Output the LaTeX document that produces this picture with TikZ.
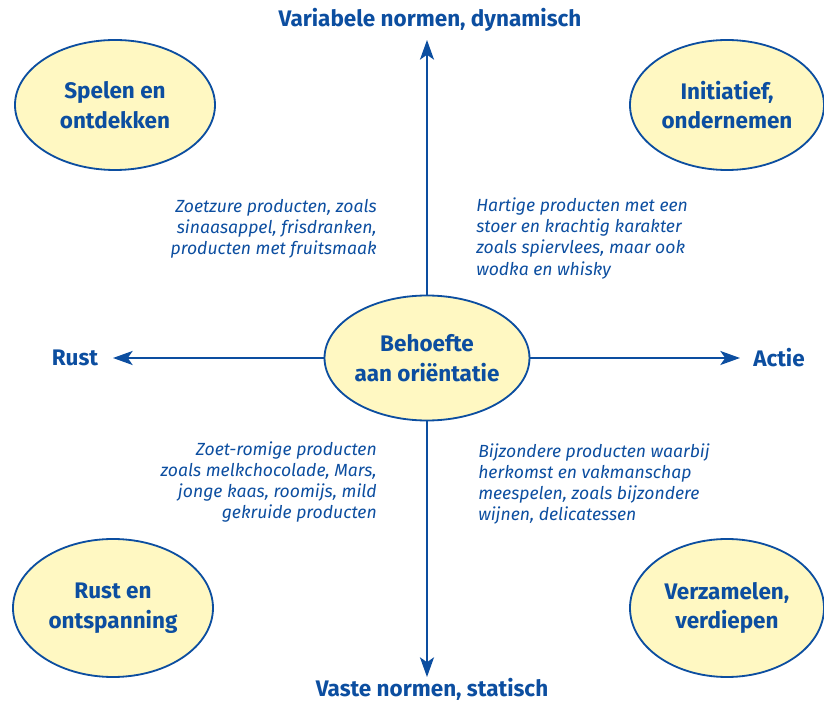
\documentclass[tikz,border=0pt]{standalone}
\usepackage{fontspec}
\setmainfont{Fira Sans}
\usetikzlibrary{arrows.meta,shapes.geometric}
\definecolor{kblue}{RGB}{12,78,160}
\definecolor{kfill}{RGB}{255,248,194}
\begin{document}
\begin{tikzpicture}[
       bol/.style = {ellipse, draw = kblue, line width = 1.3pt, fill = kfill, text = kblue,
                     font = \fontsize{16}{21}\selectfont\bfseries, align = center, inner sep = 0pt},
       axis/.style = {draw = kblue, line width = 1.4pt, -{Stealth[length = 14pt, width = 10pt, inset = 3.5pt]}},
       aslabel/.style = {text = kblue, font = \fontsize{16}{19}\selectfont\bfseries},
       uitleg/.style = {text = kblue, font = \fontsize{12.5}{15}\selectfont\itshape, inner sep = 0pt}]
       \useasboundingbox (-10.675,-8.575) rectangle (9.925,8.95);
       \node (mid) [bol, minimum width = 5.025cm, minimum height = 3.125cm] at (0,0) {Behoefte\\aan oriëntatie};
       \node (spelen) [bol, minimum width = 5cm, minimum height = 3.25cm] at (-7.8,6.325) {Spelen en\\ontdekken};
       \node (initiatief) [bol, minimum width = 4.85cm, minimum height = 3.25cm] at (7.5,6.325) {Initiatief,\\ondernemen};
       \node (rustbol) [bol, minimum width = 5cm, minimum height = 3.45cm] at (-7.85,-6.25) {Rust en\\ontspanning};
       \node (verzamelen) [bol, minimum width = 4.85cm, minimum height = 3.45cm] at (7.5,-6.25) {Verzamelen,\\verdiepen};
       \coordinate (tipN) at (0,7.95);
       \coordinate (tipS) at (0,-7.975);
       \coordinate (tipW) at (-7.85,0);
       \coordinate (tipE) at (7.825,0);
       \draw [axis] (mid) -- (tipN);
       \draw [axis] (mid) -- (tipS);
       \draw [axis] (mid) -- (tipW);
       \draw [axis] (mid) -- (tipE);
       \node (variabel) [aslabel] at (0.075,8.45) {Variabele normen, dynamisch};
       \node (vast) [aslabel] at (0.125,-8.275) {Vaste normen, statisch};
       \node (rust) [aslabel] at (-8.8,0) {Rust};
       \node (actie) [aslabel] at (8.8,0) {Actie};
       \node (zoetzuur) [uitleg, anchor = east, align = right] at (-1.25,3.225)
             {Zoetzure producten, zoals\\sinaasappel, frisdranken,\\producten met fruitsmaak};
       \node (hartig) [uitleg, anchor = west, align = left] at (1.225,2.99)
             {Hartige producten met een\\stoer en krachtig karakter\\zoals spiervlees, maar ook\\wodka en whisky};
       \node (zoetromig) [uitleg, anchor = east, align = right] at (-1.25,-3.11)
             {Zoet-romige producten\\zoals melkchocolade, Mars,\\jonge kaas, roomijs, mild\\gekruide producten};
       \node (bijzonder) [uitleg, anchor = west, align = left] at (1.275,-3.15)
             {Bijzondere producten waarbij\\herkomst en vakmanschap\\meespelen, zoals bijzondere\\wijnen, delicatessen};
      \end{tikzpicture}
\end{document}
